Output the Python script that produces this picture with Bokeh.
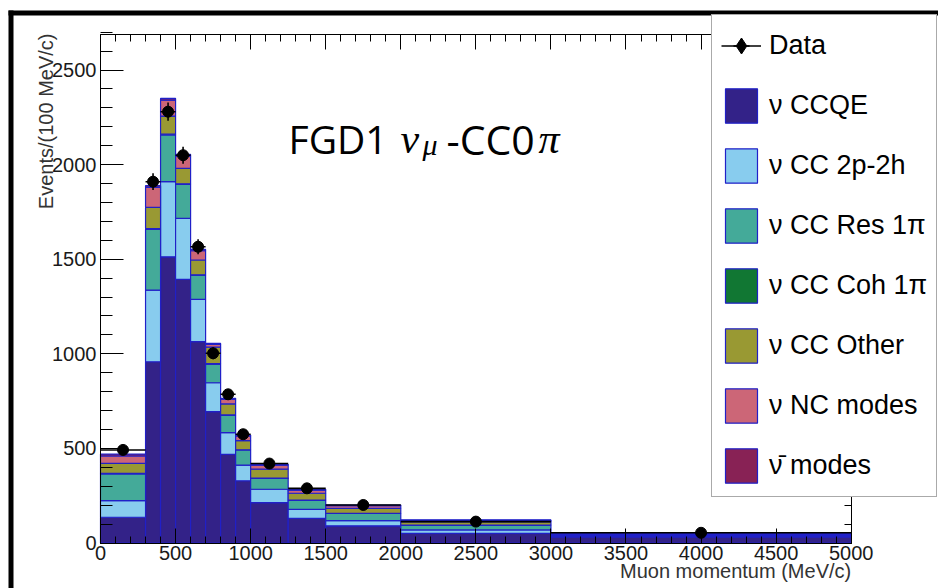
import numpy as np
from bokeh.plotting import figure
from bokeh.models import (Range1d, LinearAxis, FixedTicker, Legend, LegendItem,
                          Label, BoxAnnotation, ColumnDataSource)
from bokeh.embed import file_html
from bokeh.resources import INLINE

# ---------------- data (events per 100 MeV/c) ----------------
bin_edges = [0, 300, 400, 500, 600, 700, 800, 900, 1000, 1250, 1500, 2000, 3000, 5000]

ccqe      = [136, 958, 1513, 1394, 1064, 694, 469, 329, 213, 130, 91, 51, 32]
cc_2p2h   = [88, 379, 397, 322, 224, 153, 114, 83, 71, 48, 27, 18, 6]
cc_res    = [141, 321, 247, 180, 128, 99, 93, 80, 58, 49, 39, 26, 5]
cc_coh    = [3, 4, 4, 3, 2, 2, 1, 1, 1, 0, 0, 0, 0]
cc_other  = [53, 112, 96, 81, 78, 87, 58, 48, 47, 36, 26, 18, 5]
nc_modes  = [39, 106, 84, 65, 49, 15, 25, 25, 22, 17, 15, 7, 2]
anu_modes = [10, 9, 9, 9, 7, 5, 5, 5, 4, 4, 3, 2, 1]

data_x    = [150, 350, 450, 550, 650, 750, 850, 950, 1125, 1375, 1750, 2500, 4000]
data_y    = [492, 1910, 2280, 2050, 1566, 1003, 786, 575, 420, 289, 201, 113, 54]
data_err  = [13, 44, 48, 45, 40, 32, 28, 24, 13, 11, 6, 3.4, 1.6]

layer_names = ["\u03bd CCQE", "\u03bd CC 2p-2h", "\u03bd CC Res 1\u03c0", "\u03bd CC Coh 1\u03c0",
               "\u03bd CC Other", "\u03bd NC modes", "\u03bd\u0304 modes"]
layer_colors = ["#332288", "#88CCEE", "#44AA99", "#117733", "#999933", "#CC6677", "#882255"]

x_ticks = [0, 500, 1000, 1500, 2000, 2500, 3000, 3500, 4000, 4500, 5000]
y_ticks = [0, 500, 1000, 1500, 2000, 2500]
x_lim = (0, 5000)
y_lim = (0, 2688)

# ---------------- page geometry (pixels) ----------------
W, H = 938, 588
fx0, fx1 = 100.0, 850.7     # plot frame left/right in the picture
fy0, fy1 = 542.5, 34.0      # plot frame bottom/top in the picture
sx = (x_lim[1] - x_lim[0]) / (fx1 - fx0)
sy = (y_lim[1] - y_lim[0]) / (fy0 - fy1)
xr = Range1d(x_lim[0] - fx0 * sx, x_lim[1] + (W - fx1) * sx)
yr = Range1d(y_lim[0] - (H - fy0) * sy, y_lim[1] + fy1 * sy)

p = figure(width=W, height=H, output_backend="svg", toolbar_location=None,
           x_range=xr, y_range=yr, min_border=0,
           min_border_left=0, min_border_right=0, min_border_top=0, min_border_bottom=0,
           background_fill_color="white", border_fill_color="white",
           outline_line_color=None)
p.xgrid.visible = False
p.ygrid.visible = False

edges = np.array(bin_edges, dtype=float)
layers = [ccqe, cc_2p2h, cc_res, cc_coh, cc_other, nc_modes, anu_modes]
bottom = np.zeros(len(ccqe))
layer_renderers = []
for vals, col in zip(layers, layer_colors):
    top = bottom + np.array(vals, dtype=float)
    src = ColumnDataSource(dict(left=edges[:-1], right=edges[1:], bottom=bottom.copy(), top=top))
    r = p.quad(left="left", right="right", bottom="bottom", top="top", source=src,
               fill_color=col, line_color="#2020c8", line_width=1.2)
    layer_renderers.append(r)
    bottom = top

# data points with error bars
dy = np.array(data_y, dtype=float)
de = np.array(data_err, dtype=float)
hseg = p.segment(x0=edges[:-1], x1=edges[1:], y0=dy, y1=dy, line_color="black", line_width=1.6)
p.segment(x0=data_x, x1=data_x, y0=dy - de, y1=dy + de, line_color="black", line_width=1.6)
p.scatter(x=data_x, y=data_y, size=11, marker="circle", fill_color="black", line_color="black")
# legend-only glyphs for the "Data" entry (negligible size in the plot itself)
leg_v = p.scatter(x=data_x, y=data_y, size=0.01, marker="dash", angle=np.pi / 2,
                  line_color="black", line_width=1.6)
leg_d = p.scatter(x=data_x, y=data_y, size=0.01, marker="diamond",
                  fill_color="black", line_color="black")

# ---------------- axes (ROOT style frame, ticks inside) ----------------
def style_axis(ax, major_in, minor_in, show_labels=True):
    ax.axis_line_color = "black"
    ax.axis_line_width = 1
    ax.major_tick_in = major_in
    ax.major_tick_out = 0
    ax.minor_tick_in = minor_in
    ax.minor_tick_out = 0
    ax.major_tick_line_color = "black"
    ax.minor_tick_line_color = "black"
    ax.major_label_text_font = "Liberation Sans"
    ax.major_label_text_font_size = "20px"
    ax.major_label_text_color = "#1a1a1a" if show_labels else None

x_minor = list(range(0, 5001, 100))
y_minor = list(range(0, 2701, 100))

p.xaxis.ticker = FixedTicker(ticks=x_ticks, minor_ticks=x_minor)
p.yaxis.ticker = FixedTicker(ticks=y_ticks, minor_ticks=y_minor)
style_axis(p.xaxis[0], 15, 7)
style_axis(p.yaxis[0], 23, 12)
p.xaxis.fixed_location = y_lim[0]
p.xaxis.bounds = x_lim
p.yaxis.fixed_location = x_lim[0]
p.yaxis.bounds = y_lim
p.xaxis.major_label_standoff = 3
p.yaxis.major_label_standoff = 4

top_ax = LinearAxis(ticker=FixedTicker(ticks=x_ticks, minor_ticks=x_minor),
                    fixed_location=y_lim[1], bounds=x_lim)
style_axis(top_ax, 15, 7, show_labels=False)
p.add_layout(top_ax, "above")
right_ax = LinearAxis(ticker=FixedTicker(ticks=y_ticks, minor_ticks=y_minor),
                      fixed_location=x_lim[1], bounds=y_lim)
style_axis(right_ax, 15, 7, show_labels=False)
p.add_layout(right_ax, "right")

# axis titles (ROOT style, at the axis ends); screen units = pixels from bottom-left
p.add_layout(Label(x=45.5, y=H - 33, x_units="screen", y_units="screen",
                   text="Events/(100 MeV/c)", angle=np.pi / 2, text_align="right",
                   text_baseline="middle", text_font="Liberation Sans",
                   text_font_size="20px", text_color="#333333"))
p.add_layout(Label(x=fx1, y=H - 570, x_units="screen", y_units="screen",
                   text="Muon momentum (MeV/c)", text_align="right",
                   text_baseline="middle", text_font="Liberation Sans",
                   text_font_size="20px", text_color="#333333"))

# ---------------- in-plot title ----------------
base = H - 155 + 17
for txt, xs, dys, font, size, style in [
        ("FGD1", 288, 0, "Open Sans", "39px", "normal"),
        ("\u03bd", 400, 0, "Liberation Serif", "42px", "italic"),
        ("\u03bc", 422, -6, "Liberation Serif", "30px", "italic"),
        ("-CC0", 446, 0, "Open Sans", "41px", "normal"),
        ("\u03c0", 538, 0, "Liberation Serif", "42px", "italic")]:
    p.add_layout(Label(x=xs, y=base + dys, x_units="screen", y_units="screen", text=txt,
                       text_align="left", text_baseline="alphabetic", text_font=font,
                       text_font_size=size, text_font_style=style, text_color="black"))

# ---------------- legend ----------------
items = [LegendItem(label="Data", renderers=[hseg, leg_v, leg_d])]
for name, r in zip(layer_names, layer_renderers):
    items.append(LegendItem(label=name, renderers=[r]))
legend = Legend(items=items, location=(711, H - 497), orientation="vertical",
                glyph_width=40, glyph_height=43, spacing=17, padding=9, margin=0,
                label_standoff=8, label_text_font="Liberation Sans",
                label_text_font_size="27px", label_text_color="black",
                border_line_color="#555555", border_line_width=1.5,
                background_fill_color="white", background_fill_alpha=1.0)
p.add_layout(legend)

# ---------------- outer black frame of the picture ----------------
p.add_layout(BoxAnnotation(left=8, right=13, top=H - 10, bottom=-10,
                           left_units="screen", right_units="screen",
                           top_units="screen", bottom_units="screen",
                           fill_color="black", fill_alpha=1.0, line_color=None))
p.add_layout(BoxAnnotation(left=8, right=W + 10, top=H - 10, bottom=H - 15,
                           left_units="screen", right_units="screen",
                           top_units="screen", bottom_units="screen",
                           fill_color="black", fill_alpha=1.0, line_color=None))

open("out.html", "w").write(file_html(p, INLINE))
